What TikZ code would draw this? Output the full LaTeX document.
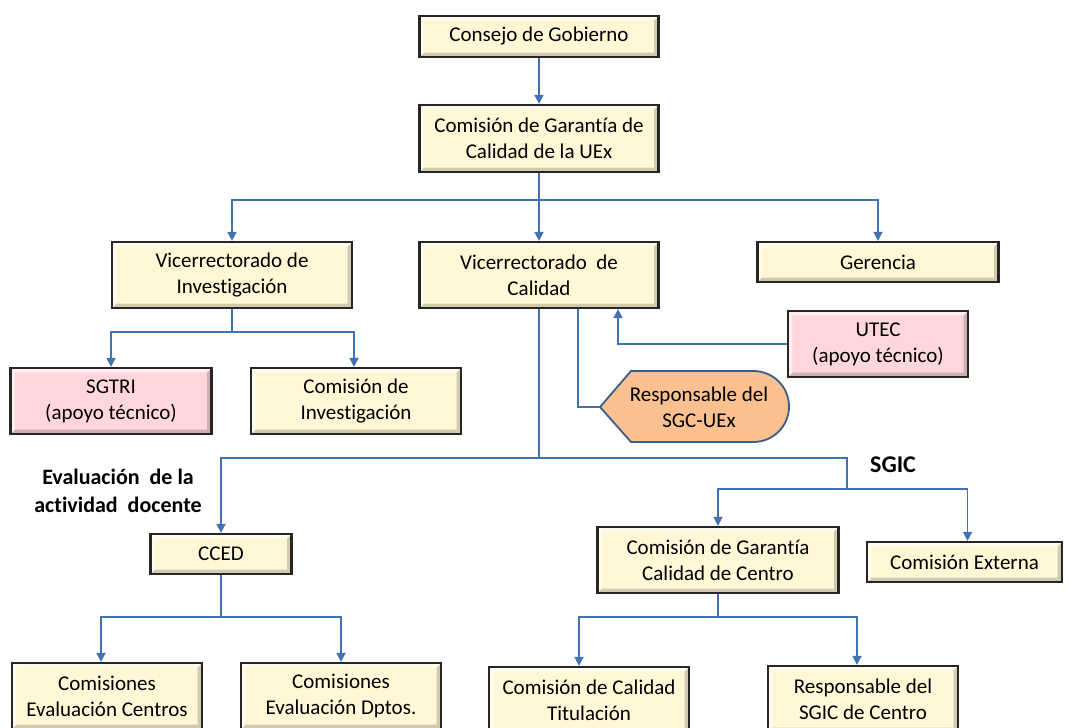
\documentclass[tikz,border=0pt]{standalone}
\usepackage{fontspec}
\setmainfont{Carlito}[Ligatures=NoCommon]
\usetikzlibrary{arrows.meta}
\definecolor{crema}{RGB}{255,247,214}
\definecolor{rosa}{RGB}{255,214,217}
\definecolor{naranja}{RGB}{250,192,144}
\definecolor{azul}{RGB}{66,114,175}
\definecolor{bordeazul}{RGB}{56,93,138}

\begin{document}
\begin{tikzpicture}[x=0.5pt,y=-0.5pt,
	caja/.style={draw=black!85, line width=1.1pt, fill=crema, align=center, inner sep=0pt,
		font=\fontsize{10.5}{13}\selectfont,
		path picture={
			\fill[black, opacity=0.18] (path picture bounding box.north east) -- (path picture bounding box.south east)
				-- (path picture bounding box.south west) -- ([shift={(2.2pt,2.2pt)}]path picture bounding box.south west)
				-- ([shift={(-2.2pt,2.2pt)}]path picture bounding box.south east)
				-- ([shift={(-2.2pt,-2.2pt)}]path picture bounding box.north east) -- cycle;
			\fill[white, opacity=0.6] (path picture bounding box.north east) -- (path picture bounding box.north west)
				-- (path picture bounding box.south west) -- ([shift={(2.2pt,2.2pt)}]path picture bounding box.south west)
				-- ([shift={(2.2pt,-2.2pt)}]path picture bounding box.north west)
				-- ([shift={(-2.2pt,-2.2pt)}]path picture bounding box.north east) -- cycle;}},
	apoyo/.style={caja, fill=rosa},
	flecha/.style={draw=azul, line width=0.8pt, -{Triangle[width=4.5pt,length=4.5pt]}},
	linea/.style={draw=azul, line width=0.8pt},
	rotulo/.style={font=\bfseries\fontsize{11}{14}\selectfont, align=center}]
\useasboundingbox (0,0) rectangle (1069,727);

\node[caja, minimum width=119.5pt, minimum height=20.5pt] (cg) at (539,36.5) {Consejo de Gobierno};
\node[caja, minimum width=119.5pt, minimum height=33.5pt] (cgc) at (539,138.5) {Comisión de Garantía de\\Calidad de la UEx};

\node[caja, minimum width=120pt, minimum height=33pt] (vinv) at (232,275) {Vicerrectorado de\\Investigación};
\node[caja, minimum width=119.5pt, minimum height=33pt] (vcal) at (539,275) {Vicerrectorado\ \ de\\Calidad};
\node[caja, minimum width=120.5pt, minimum height=20pt] (ger) at (878,262) {Gerencia};

\node[apoyo, minimum width=100.5pt, minimum height=33pt] (sgtri) at (111,401) {SGTRI\\(apoyo técnico)};
\node[caja, minimum width=105pt, minimum height=33pt] (cinv) at (356,401) {Comisión de\\Investigación};
\node[apoyo, minimum width=90pt, minimum height=33pt] (utec) at (878,344) {UTEC\\(apoyo técnico)};

\coordinate (resp) at (600,407);
\draw[fill=naranja, draw=bordeazul, line width=0.9pt] (resp) -- (631,371) -- (753.5,371)
	arc[start angle=90, end angle=-90, radius=17.75pt] -- (631,442) -- cycle;
\node[font=\fontsize{10.5}{13}\selectfont, align=center] (resptxt) at (699,407) {Responsable del\\SGC-UEx};

\node[caja, minimum width=70.5pt, minimum height=20pt] (cced) at (221,554) {CCED};
\node[caja, minimum width=120.5pt, minimum height=33pt] (cgcc) at (718,560) {Comisión de Garantía\\Calidad de Centro};
\node[caja, minimum width=97.5pt, minimum height=20pt] (cext) at (964.5,562) {Comisión Externa};

\node[caja, minimum width=95pt, minimum height=33pt] (cec) at (107,696) {Comisiones\\Evaluación Centros};
\node[caja, minimum width=100pt, minimum height=33pt] (ced) at (341,696) {Comisiones\\Evaluación Dptos.};
\node[caja, minimum width=100pt, minimum height=33pt] (cct) at (589,700) {Comisión de Calidad\\Titulación};
\node[caja, minimum width=95pt, minimum height=33pt] (rsgic) at (863,699) {Responsable del\\SGIC de Centro};

\node[rotulo] (evdoc) at (118,491) {Evaluación\ \ de la\\actividad\ \ docente};
\node[rotulo, font=\bfseries\fontsize{12}{14}\selectfont] (sgictxt) at (893,465) {SGIC};

\draw[flecha] (cg) -- (cgc);
\draw[flecha] (cgc.south) -- ++(0,27) -| (vinv.north);
\draw[flecha] (cgc.south) -- (vcal.north);
\draw[flecha] (cgc.south) -- ++(0,27) -| (ger.north);

\draw[flecha] (vinv.south) -- ++(0,23) -| (sgtri.north);
\draw[flecha] (vinv.south) -- ++(0,23) -| ([xshift=-1pt]cinv.north);

\draw[flecha] (utec.west) -| ([xshift=39.5pt]vcal.south);
\draw[linea] ([xshift=19.5pt]vcal.south) |- (resp);

\coordinate (bus) at (539,458);
\coordinate (sgic) at (847,489);
\draw[linea] (vcal.south) -- (bus);
\draw[flecha] (bus) -| (cced.north);
\draw[linea] (bus) -| (sgic);
\draw[flecha] (sgic) -| (cgcc.north);
\draw[flecha] (sgic) -| ([xshift=1.5pt]cext.north);

\draw[flecha] (cced.south) -- ++(0,42) -| ([xshift=-3pt]cec.north);
\draw[flecha] (cced.south) -- ++(0,42) -| (ced.north);
\draw[flecha] (cgcc.south) -- ++(0,23) -| ([xshift=-5pt]cct.north);
\draw[flecha] (cgcc.south) -- ++(0,23) -| ([xshift=-3pt]rsgic.north);
\end{tikzpicture}
\end{document}
